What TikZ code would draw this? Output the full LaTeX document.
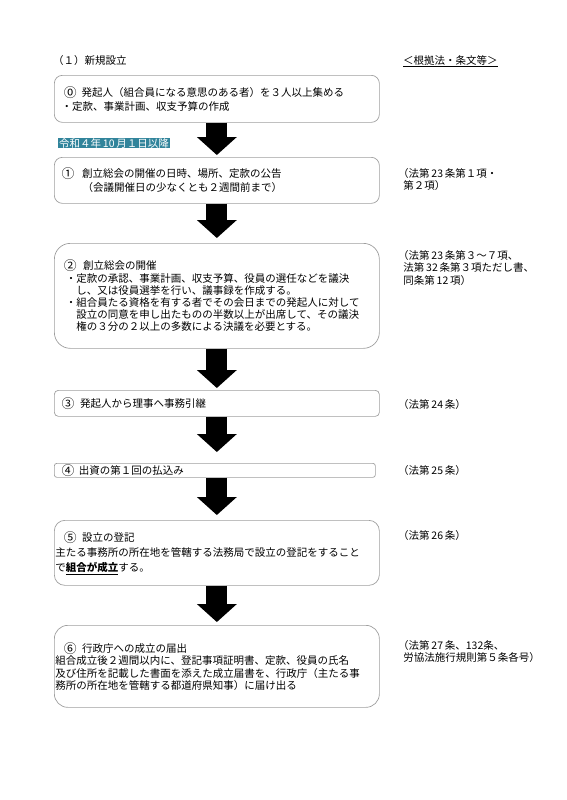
\documentclass[tikz,border=0pt]{standalone}
\usepackage{fontspec}
\setmainfont{Noto Sans CJK JP}
\usepackage{xcolor}
\usetikzlibrary{arrows.meta}

\definecolor{bandteal}{HTML}{31849B}
\definecolor{boxgray}{gray}{0.62}
\newcommand{\hn}[1]{\,#1\,}
\newcommand{\cnum}[2][1.6em]{\makebox[#1][l]{\raisebox{-0.08em}{\scalebox{1.22}{#2}}}}

\begin{document}
\begin{tikzpicture}[x=1pt,y=-1pt,
    stepbox/.style={draw=boxgray, line width=0.7pt, anchor=north west, inner xsep=1pt, inner ysep=0pt,
      text width=323pt, align=left, font=\fontsize{10.5}{14}\selectfont},
    lawtext/.style={anchor=north west, inner sep=0pt, align=left, font=\fontsize{10.5}{12.5}\selectfont},
    bigarrow/.style={line width=21pt, -{Triangle[width=40pt,length=18pt,line width=0pt]}}]
    \useasboundingbox (0,0) rectangle (566,800);

    \node[lawtext] (title) at (53,55) {（１）新規設立};
    \node[lawtext] (lawhead) at (403,55) {\underline{＜根拠法・条文等＞}};

    \node[stepbox, minimum height=47pt, rounded corners=8pt] (b0) at (54,75)
      {\hspace*{0.8em}\cnum[1.7em]{⓪}発起人（組合員になる意思のある者）を３人以上集める\\
       \hspace*{0.6em}・定款、事業計画、収支予算の作成};
    \node[anchor=north west, fill=bandteal, text=white, inner xsep=1pt, inner ysep=0.5pt,
      font=\fontsize{10.5}{12}\selectfont] (since) at (58,137.5) {令和４年\hn{10}月１日以降};
    \node[stepbox, minimum height=46pt, rounded corners=8pt] (b1) at (54,157)
      {\hspace*{0.6em}\cnum[1.95em]{①}創立総会の開催の日時、場所、定款の公告\\
       \hspace*{2.6em}（会議開催日の少なくとも２週間前まで）};
    \node[stepbox, minimum height=105pt, rounded corners=16pt, font=\fontsize{10.5}{12.2}\selectfont] (b2) at (54,243)
      {\hspace*{0.8em}\cnum[1.85em]{②}創立総会の開催\\
       \hspace*{1em}・定款の承認、事業計画、収支予算、役員の選任などを議決\\
       \hspace*{2em}し、又は役員選挙を行い、議事録を作成する。\\
       \hspace*{1em}・組合員たる資格を有する者でその会日までの発起人に対して\\
       \hspace*{2em}設立の同意を申し出たものの半数以上が出席して、その議決\\
       \hspace*{2em}権の３分の２以上の多数による決議を必要とする。};
    \node[stepbox, minimum height=26pt, rounded corners=4pt] (b3) at (54,390)
      {\hspace*{0.6em}\cnum[1.75em]{③}発起人から理事へ事務引継};
    \node[stepbox, text width=319pt, minimum height=14pt, rounded corners=2.5pt] (b4) at (54,463)
      {\hspace*{0.6em}\cnum[1.65em]{④}出資の第１回の払込み};
    \node[stepbox, minimum height=65pt, rounded corners=10.5pt, font=\fontsize{10.5}{15}\selectfont] (b5) at (54,520)
      {\hspace*{0.8em}\cnum[1.75em]{⑤}設立の登記\\
       主たる事務所の所在地を管轄する法務局で設立の登記をすること\\
       で\underline{\textbf{組合が成立}}する。};
    \node[stepbox, minimum height=82pt, rounded corners=13.5pt, font=\fontsize{10.5}{12.4}\selectfont] (b6) at (54,625)
      {\hspace*{0.8em}\cnum[1.75em]{⑥}行政庁への成立の届出\\
       組合成立後２週間以内に、登記事項証明書、定款、役員の氏名\\
       及び住所を記載した書面を添えた成立届書を、行政庁（主たる事\\
       務所の所在地を管轄する都道府県知事）に届け出る};

    % law references
    \node[lawtext] (law1) at (398,168) {（法第\hn{23}条第１項・\\\hspace*{0.5em}第２項）};
    \node[lawtext] (law2) at (398,250) {（法第\hn{23}条第３～７項、\\\hspace*{0.5em}法第\hn{32}条第３項ただし書、\\\hspace*{0.5em}同条第\hn{12}項）};
    \node[lawtext] (law3) at (398,399) {（法第\hn{24}条）};
    \node[lawtext] (law4) at (398,465) {（法第\hn{25}条）};
    \node[lawtext] (law5) at (398,530) {（法第\hn{26}条）};
    \node[lawtext] (law6) at (398,640) {（法第\hn{27}条、132条、\\\hspace*{0.5em}労協法施行規則第５条各号）};

    \draw[bigarrow, shorten >=2pt] (b0.south) -- (b1.north);
    \draw[bigarrow, shorten >=5pt] (b1.south) -- (b2.north);
    \draw[bigarrow, shorten >=2pt] (b2.south) -- (b3.north);
    \draw[bigarrow, shorten >=11pt] (b3.south) -- (b3.south |- b4.north);
    \draw[bigarrow, shorten >=5pt] (b4.south -| b3.south) -- (b5.north);
    \draw[bigarrow, shorten >=3pt] (b5.south) -- (b6.north);
\end{tikzpicture}
\end{document}
